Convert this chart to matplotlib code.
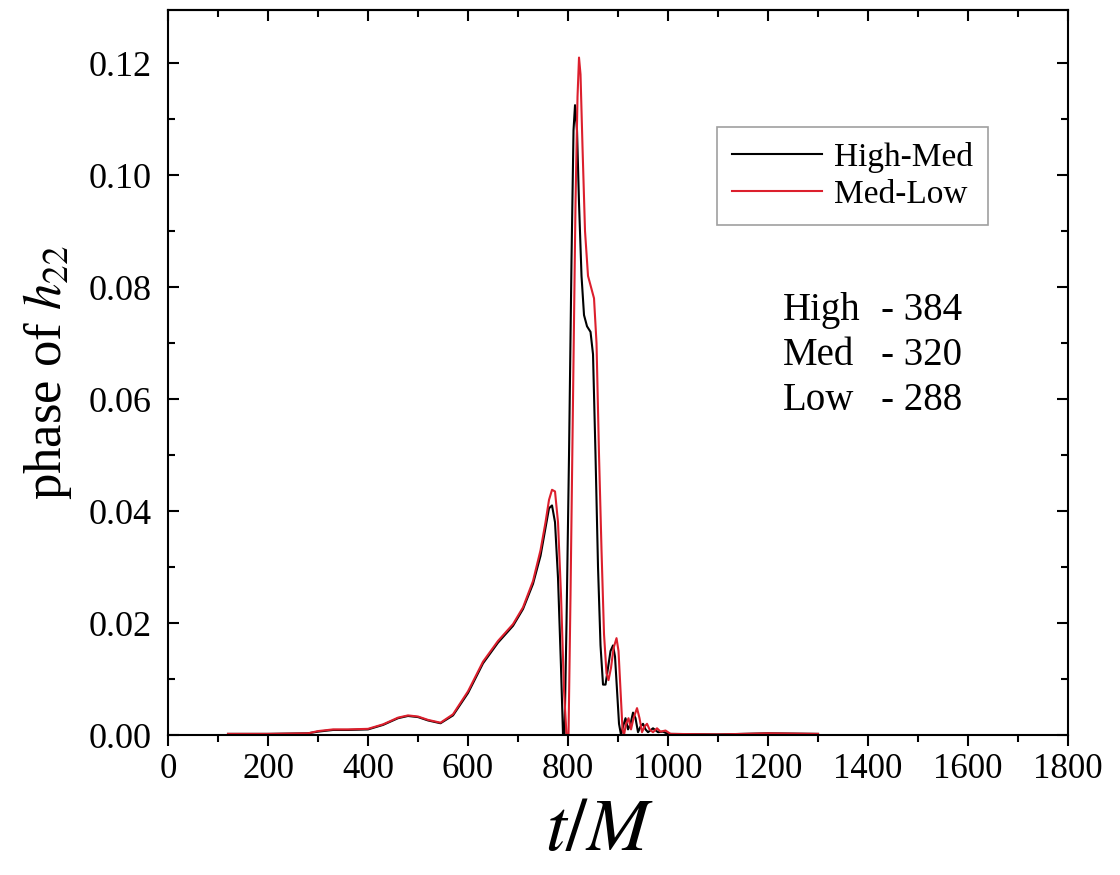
'''phase difference of h22 between resolutions'''
import matplotlib
matplotlib.use("Agg")
import matplotlib.pyplot as plt
from matplotlib.ticker import MultipleLocator

# High-Med difference
t_hm = [120, 200, 280, 300, 330, 360, 400, 430, 460, 480, 500, 520, 545, 570,
        600, 630, 660, 690, 710, 730, 745, 755, 762, 768, 774, 780, 786, 790,
        793, 797, 802, 807, 811, 814, 818, 822, 827, 832, 838, 845, 850, 855,
        860, 865, 870, 875, 880, 885, 890, 894, 898, 902, 906, 910, 915, 920,
        925, 930, 935, 940, 945, 950, 955, 960, 970, 980, 990, 1000, 1100,
        1200, 1300]
phase_hm = [0.0002, 0.0002, 0.0003, 0.0006, 0.0009, 0.0009, 0.0010, 0.0018,
            0.0030, 0.0034, 0.0032, 0.0026, 0.0021, 0.0035, 0.0075, 0.0128,
            0.0165, 0.0195, 0.0225, 0.0270, 0.0320, 0.0370, 0.0405, 0.0410,
            0.0380, 0.0280, 0.0120, 0.0, 0.0, 0.0200, 0.0500, 0.0850, 0.1080,
            0.1125, 0.1080, 0.0950, 0.0820, 0.0750, 0.0730, 0.0720, 0.0680,
            0.0500, 0.0300, 0.0160, 0.0090, 0.0090, 0.0120, 0.0150, 0.0160,
            0.0140, 0.0080, 0.0020, 0.0, 0.0015, 0.0030, 0.0010, 0.0020,
            0.0040, 0.0030, 0.0005, 0.0015, 0.0020, 0.0010, 0.0005, 0.0012,
            0.0005, 0.0006, 0.0002, 0.0001, 0.0003, 0.0002]

# Med-Low difference
t_ml = [120, 200, 280, 300, 330, 360, 400, 430, 460, 480, 500, 520, 545, 570,
        600, 630, 660, 690, 710, 730, 745, 755, 762, 768, 774, 780, 786, 792,
        797, 801, 805, 810, 815, 819, 822, 825, 829, 834, 840, 846, 852, 857,
        862, 867, 872, 877, 881, 886, 891, 897, 901, 905, 909, 912, 916, 921,
        926, 931, 938, 943, 948, 953, 958, 963, 970, 978, 985, 995, 1005, 1100,
        1200, 1300]
phase_ml = [0.0002, 0.0002, 0.0003, 0.0007, 0.0010, 0.0010, 0.0011, 0.0019,
            0.0031, 0.0035, 0.0033, 0.0027, 0.0022, 0.0037, 0.0078, 0.0131,
            0.0168, 0.0198, 0.0228, 0.0275, 0.0330, 0.0380, 0.0420, 0.0438,
            0.0435, 0.0380, 0.0250, 0.0080, 0.0, 0.0, 0.0250, 0.0600, 0.0950,
            0.1140, 0.1210, 0.1180, 0.1050, 0.0900, 0.0820, 0.0800, 0.0780,
            0.0700, 0.0500, 0.0330, 0.0180, 0.0110, 0.0098, 0.0120, 0.0155,
            0.0173, 0.0150, 0.0080, 0.0010, 0.0, 0.0020, 0.0030, 0.0010,
            0.0030, 0.0048, 0.0030, 0.0005, 0.0015, 0.0020, 0.0010, 0.0005,
            0.0012, 0.0006, 0.0008, 0.0002, 0.0001, 0.0003, 0.0002]

resolutions = ["High", "Med", "Low"]
grid_sizes = ["384", "320", "288"]

plt.rcParams['font.family'] = ['Liberation Serif', 'DejaVu Serif']
plt.rcParams['mathtext.fontset'] = 'stix'

fig = plt.figure(figsize=(11.2, 8.75), dpi=100)
ax = fig.add_axes([0.15, 0.16, 0.8036, 0.8286])

ax.plot(t_hm, phase_hm, color='black', lw=1.5, label='High-Med')
ax.plot(t_ml, phase_ml, color='#dc1f2d', lw=1.5, label='Med-Low')

ax.set_xlim(0, 1800)
ax.set_ylim(0, 0.1295)
ax.xaxis.set_major_locator(MultipleLocator(200))
ax.xaxis.set_minor_locator(MultipleLocator(100))
ax.yaxis.set_major_locator(MultipleLocator(0.02))
ax.yaxis.set_minor_locator(MultipleLocator(0.01))
ax.yaxis.set_major_formatter(plt.FormatStrFormatter('%.2f'))

ax.tick_params(axis='x', which='both', direction='out', bottom=True, top=False,
               labelsize=25, width=1.5, pad=5)
ax.tick_params(axis='x', which='major', length=8)
ax.tick_params(axis='x', which='minor', length=5)
ax.tick_params(axis='y', which='both', direction='in', left=True, right=True,
               labelsize=26, width=1.5, pad=12)
ax.tick_params(axis='y', which='major', length=8)
ax.tick_params(axis='y', which='minor', length=5)

# inward ticks on the top spine
top = ax.secondary_xaxis('top')
top.xaxis.set_major_locator(MultipleLocator(200))
top.xaxis.set_minor_locator(MultipleLocator(100))
top.tick_params(which='both', direction='in', width=1.5, labeltop=False)
top.tick_params(which='major', length=8)
top.tick_params(which='minor', length=5)

for s in ax.spines.values():
    s.set_linewidth(1.5)
top.spines['top'].set_linewidth(1.5)

ax.set_xlabel('$t/M$', fontsize=54, labelpad=9)
ax.xaxis.label.set_x(0.48)
ax.set_ylabel('phase of $h_{22}$', fontsize=38, labelpad=10)

leg = ax.legend(loc='upper left', bbox_to_anchor=(0.61, 0.839), fontsize=24,
                frameon=True, fancybox=False, handlelength=2.7,
                borderpad=0.45, borderaxespad=0, labelspacing=0.2,
                handletextpad=0.35)
leg.get_frame().set_edgecolor('#888888')
leg.get_frame().set_linewidth(1.2)

for i, (name, n) in enumerate(zip(resolutions, grid_sizes)):
    y = 0.586 - i * 0.062
    ax.text(0.683, y, name, transform=ax.transAxes, fontsize=28, va='center')
    ax.text(0.792, y, f'- {n}', transform=ax.transAxes, fontsize=28, va='center')

plt.savefig('out.png', dpi=100)
